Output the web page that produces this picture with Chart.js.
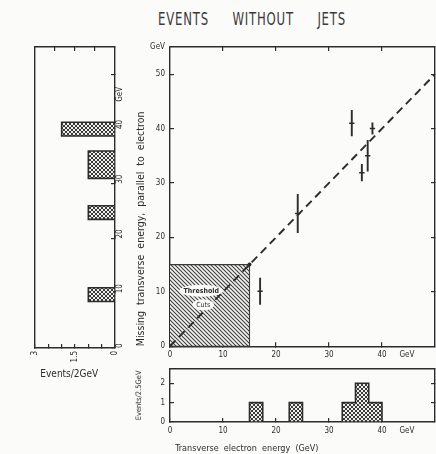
<!DOCTYPE html>
<html>
<head>
<meta charset="utf-8">
<script src="https://cdn.jsdelivr.net/npm/chart.js@4.4.1/dist/chart.umd.min.js"></script>
<style>
  html, body { margin: 0; padding: 0; background: #fbfbfa; }
  body { width: 436px; height: 454px; position: relative; overflow: hidden;
         font-family: "DejaVu Sans Condensed", "DejaVu Sans", sans-serif; color: #2e2e2e; }
  .panel { position: absolute; }
  #title { position: absolute; left: 158px; top: 9px; font-size: 13px; letter-spacing: 0.8px;
           word-spacing: 19px; white-space: nowrap; color: #3a3a3a;
           transform: scale(1, 1.3); transform-origin: left top; }
</style>
</head>
<body>
<div id="title">EVENTS WITHOUT JETS</div>
<div class="panel" style="left:20px;top:30px;width:120px;height:352px"><canvas id="side"></canvas></div>
<div class="panel" style="left:100px;top:30px;width:336px;height:330px"><canvas id="main"></canvas></div>
<div class="panel" style="left:100px;top:355px;width:336px;height:99px"><canvas id="bottom"></canvas></div>
<script>
// Events without jets: missing transverse energy vs transverse electron energy
const electronEt    = [17.0, 24.1, 34.3, 36.2, 37.3, 38.2];
const missingEt     = [10.1, 24.4, 41.0, 31.9, 35.0, 40.0];
const missingEtErr  = [2.5, 3.6, 2.4, 1.6, 2.9, 1.1];
const electronEtErr = [0.5, 0.5, 0.5, 0.5, 0.5, 0.5];
const thresholdCut  = 15;
const diagonalEnds  = [0, 50];

// projection onto the electron energy axis (events per 2.5 GeV)
const etBinLow  = [15, 22.5, 32.5, 35, 37.5];
const etBinHigh = [17.5, 25, 35, 37.5, 40];
const etCounts  = [1, 1, 1, 2, 1];

// projection onto the missing energy axis
const missBinLow  = [8.5, 23.5, 31, 33.5, 38.75];
const missBinHigh = [11, 26, 33.5, 36, 41.25];
const missCounts  = [1, 1, 1, 1, 2];

const gevTicks         = [0, 10, 20, 30, 40, 50];
const bottomCountTicks = [0, 1, 2];
const sideCountLabels  = [0, 1.5, 3];
const sideCountMarks   = [0, 0.5, 1, 1.5, 2, 2.5, 3];

const INK = '#2c2c2c';
const FONT = '"DejaVu Sans Condensed", "DejaVu Sans", sans-serif';
const tickFont = { family: FONT, size: 8 };
const UNIT = 'GeV';
const hidden = 'rgba(0,0,0,0)';

function makePattern(draw, size) {
  const c = document.createElement('canvas');
  c.width = c.height = size;
  const g = c.getContext('2d');
  draw(g, size);
  return g.createPattern(c, 'repeat');
}
// dense cross-hatched stipple for the histograms
const stipple = makePattern((g, n) => {
  g.fillStyle = '#efefec'; g.fillRect(0, 0, n, n);
  g.fillStyle = '#3a3a3a';
  for (let i = 0; i < n; i++) { g.fillRect(i, i, 1, 1); g.fillRect(n - 1 - i, i, 1, 1); }
}, 4);
// diagonal hatching for the threshold region
const hatch = makePattern((g, n) => {
  g.fillStyle = '#f4f4f2'; g.fillRect(0, 0, n, n);
  g.strokeStyle = '#404040'; g.lineWidth = 1.1;
  g.beginPath();
  g.moveTo(-1, -1); g.lineTo(n + 1, n + 1);
  g.moveTo(-1, n - 1); g.lineTo(1, n + 1);
  g.moveTo(n - 1, -1); g.lineTo(n + 1, 1);
  g.stroke();
}, 4);

// closed step outline for each run of adjacent bins
function stepShapes(lo, hi, counts, swap) {
  const shapes = [];
  let cur = null;
  lo.forEach((l, i) => {
    if (!cur || Math.abs(l - hi[i - 1]) > 1e-9) { cur = [[l, 0]]; shapes.push(cur); }
    cur.push([l, counts[i]], [hi[i], counts[i]]);
    if (i === lo.length - 1 || Math.abs(lo[i + 1] - hi[i]) > 1e-9) { cur.push([hi[i], 0], [cur[0][0], 0]); }
  });
  return shapes.map(pts => pts.map(([a, b]) => swap ? { x: b, y: a } : { x: a, y: b }));
}
function shapeDataset(data) {
  return { data, showLine: true, fill: 'shape', backgroundColor: stipple, borderColor: INK,
           borderWidth: 1.6, pointRadius: 0, tension: 0 };
}
function segment(data, w) {
  return { data, showLine: true, fill: false, borderColor: INK, borderWidth: w, pointRadius: 0 };
}
function tickGrid(hideValue) {
  return { drawOnChartArea: false, tickLength: -4, lineWidth: 1.2,
           color: c => (c.tick && hideValue !== undefined && Math.abs(c.tick.value - hideValue) < 1e-6) ? hidden : INK };
}
const frame = { display: true, color: INK, width: 1.4 };
function mirrorAxis(pos, min, max, marks, extra) {
  return Object.assign({ type: 'linear', position: pos, min, max, border: frame,
    ticks: { display: false }, grid: tickGrid(),
    afterBuildTicks: s => { s.ticks = marks.map(v => ({ value: v })); },
    afterFit: s => { if (pos === 'top' || pos === 'bottom') s.height = 0; else s.width = 0; } }, extra || {});
}

Chart.defaults.font.family = FONT;
Chart.defaults.color = INK;
Chart.defaults.animation = false;
Chart.defaults.plugins.legend.display = false;
Chart.defaults.plugins.tooltip.enabled = false;
Chart.defaults.maintainAspectRatio = false;
Chart.defaults.responsive = true;

// ---------- main scatter ----------
const errorBars = electronEt.flatMap((x, i) => [
  segment([{ x, y: missingEt[i] - missingEtErr[i] }, { x, y: missingEt[i] + missingEtErr[i] }], 1.9),
  segment([{ x: x - electronEtErr[i], y: missingEt[i] }, { x: x + electronEtErr[i], y: missingEt[i] }], 1.5)
]);
const diagonal = Object.assign(segment(diagonalEnds.map(v => ({ x: v, y: v })), 1.9), { borderDash: [8, 5] });
const thresholdBox = {
  data: [{ x: 0, y: thresholdCut }, { x: thresholdCut, y: thresholdCut }, { x: thresholdCut, y: 0 }, { x: 0, y: 0 }],
  showLine: true, fill: 'shape', backgroundColor: hatch, borderColor: '#3a3a3a', borderWidth: 1.1,
  pointRadius: [0, 2, 0, 0], pointBackgroundColor: INK, pointBorderWidth: 0
};

const thresholdText = {
  id: 'thresholdText',
  afterDatasetsDraw(chart) {
    const { ctx, scales: { x, y } } = chart;
    const cx = x.getPixelForValue(5.7);
    const y1 = y.getPixelForValue(10.0), y2 = y.getPixelForValue(7.6);
    ctx.save();
    ctx.fillStyle = '#fbfbfa';
    ctx.beginPath();
    ctx.ellipse(cx + 1, y1 - 1, 22, 6, 0, 0, Math.PI * 2);
    ctx.ellipse(cx + 3, y2, 11, 5.5, 0, 0, Math.PI * 2);
    ctx.fill();
    ctx.fillStyle = INK;
    ctx.font = 'bold 7px ' + FONT;
    ctx.textAlign = 'center';
    ctx.textBaseline = 'middle';
    ctx.fillText('Threshold', cx + 1, y1 - 1);
    ctx.font = '7px ' + FONT;
    ctx.fillText('Cuts', cx + 3, y2);
    ctx.restore();
  }
};

new Chart(document.getElementById('main'), {
  type: 'scatter',
  data: { datasets: [...errorBars, diagonal, thresholdBox] },
  options: {
    layout: { padding: { left: 35, top: 17, right: 1, bottom: 0 } },
    scales: {
      x: { type: 'linear', position: 'bottom', min: 0, max: 50, border: frame,
           grid: tickGrid(44.7),
           afterBuildTicks: s => { s.ticks = [...gevTicks.slice(0, 5), 44.7].map(v => ({ value: v })); },
           ticks: { font: tickFont, color: INK, padding: 8, autoSkip: false, maxRotation: 0,
                    callback: v => (v === 44.7 ? UNIT : String(v)) },
           afterFit: s => { s.height = 13; } },
      y: { type: 'linear', position: 'left', min: 0, max: 55, border: frame,
           grid: tickGrid(55),
           afterBuildTicks: s => { s.ticks = [...gevTicks, 55].map(v => ({ value: v })); },
           ticks: { font: tickFont, color: INK, padding: 9, autoSkip: false,
                    callback: v => (v === 55 ? UNIT : String(v)) },
           title: { display: true, align: 'start',
                    text: 'Missing  transverse  energy,  parallel  to  electron',
                    font: { family: FONT, size: 10.5 }, color: INK, padding: { top: 0, bottom: 0 } },
           afterFit: s => { s.width = 35; } },
      xTop: mirrorAxis('top', 0, 50, [10, 20, 30, 40]),
      yRight: mirrorAxis('right', 0, 55, [10, 20, 30, 40, 50])
    }
  },
  plugins: [thresholdText]
});

// ---------- projection on missing energy (left) ----------
new Chart(document.getElementById('side'), {
  type: 'scatter',
  data: { datasets: stepShapes(missBinLow, missBinHigh, missCounts, true).map(shapeDataset) },
  options: {
    layout: { padding: { left: 15, top: 17, right: 0, bottom: 0 } },
    scales: {
      x: { type: 'linear', position: 'bottom', reverse: true, min: 0, max: 3, border: frame,
           grid: tickGrid(),
           afterBuildTicks: s => { s.ticks = sideCountMarks.map(v => ({ value: v })); },
           ticks: { font: tickFont, color: INK, padding: 7, autoSkip: false, minRotation: 90, maxRotation: 90,
                    callback: v => (sideCountLabels.includes(v) ? String(v) : '') },
           title: { display: true, text: 'Events/2GeV    ', font: { family: FONT, size: 10 }, color: INK,
                    padding: { top: 0, bottom: 2 } },
           afterFit: s => { s.height = 34; } },
      y: { type: 'linear', position: 'right', min: 0, max: 55, border: frame,
           grid: tickGrid(45),
           afterBuildTicks: s => { s.ticks = [0, 10, 20, 30, 40, 45, 50].map(v => ({ value: v })); },
           ticks: { font: tickFont, color: INK, padding: 9, autoSkip: false, minRotation: 90, maxRotation: 90,
                    callback: v => (v === 45 ? UNIT : v === 50 ? '' : String(v)) },
           afterFit: s => { s.width = 25; } },
      xTop: mirrorAxis('top', 0, 3, [0.75, 1.5, 2.25], { reverse: true }),
      yLeft: mirrorAxis('left', 0, 55, [])
    }
  }
});

// ---------- projection on electron energy (bottom) ----------
new Chart(document.getElementById('bottom'), {
  type: 'scatter',
  data: { datasets: stepShapes(etBinLow, etBinHigh, etCounts, false).map(shapeDataset) },
  options: {
    layout: { padding: { left: 35, top: 0, right: 1, bottom: 0 } },
    scales: {
      x: { type: 'linear', position: 'bottom', min: 0, max: 50, border: frame,
           grid: tickGrid(44.7),
           afterBuildTicks: s => { s.ticks = [...gevTicks.slice(0, 5), 44.7].map(v => ({ value: v })); },
           ticks: { font: tickFont, color: INK, padding: 8, autoSkip: false, maxRotation: 0,
                    callback: v => (v === 44.7 ? UNIT : String(v)) },
           title: { display: true, align: 'start', text: '  Transverse  electron  energy  (GeV)',
                    font: { family: FONT, size: 9 }, color: INK, padding: { top: 2, bottom: 0 } },
           afterFit: s => { s.height = 32; } },
      y: { type: 'linear', position: 'left', min: 0, max: 2.75, border: frame,
           grid: tickGrid(),
           afterBuildTicks: s => { s.ticks = bottomCountTicks.map(v => ({ value: v })); },
           ticks: { font: tickFont, color: INK, padding: 9, autoSkip: false },
           title: { display: true, text: 'Events/2.5GeV', font: { family: FONT, size: 7.5 }, color: INK,
                    padding: { top: 0, bottom: 0 } },
           afterFit: s => { s.width = 35; } },
      xTop: mirrorAxis('top', 0, 50, []),
      yRight: mirrorAxis('right', 0, 2.75, [1, 2])
    }
  }
});
</script>
</body>
</html>
